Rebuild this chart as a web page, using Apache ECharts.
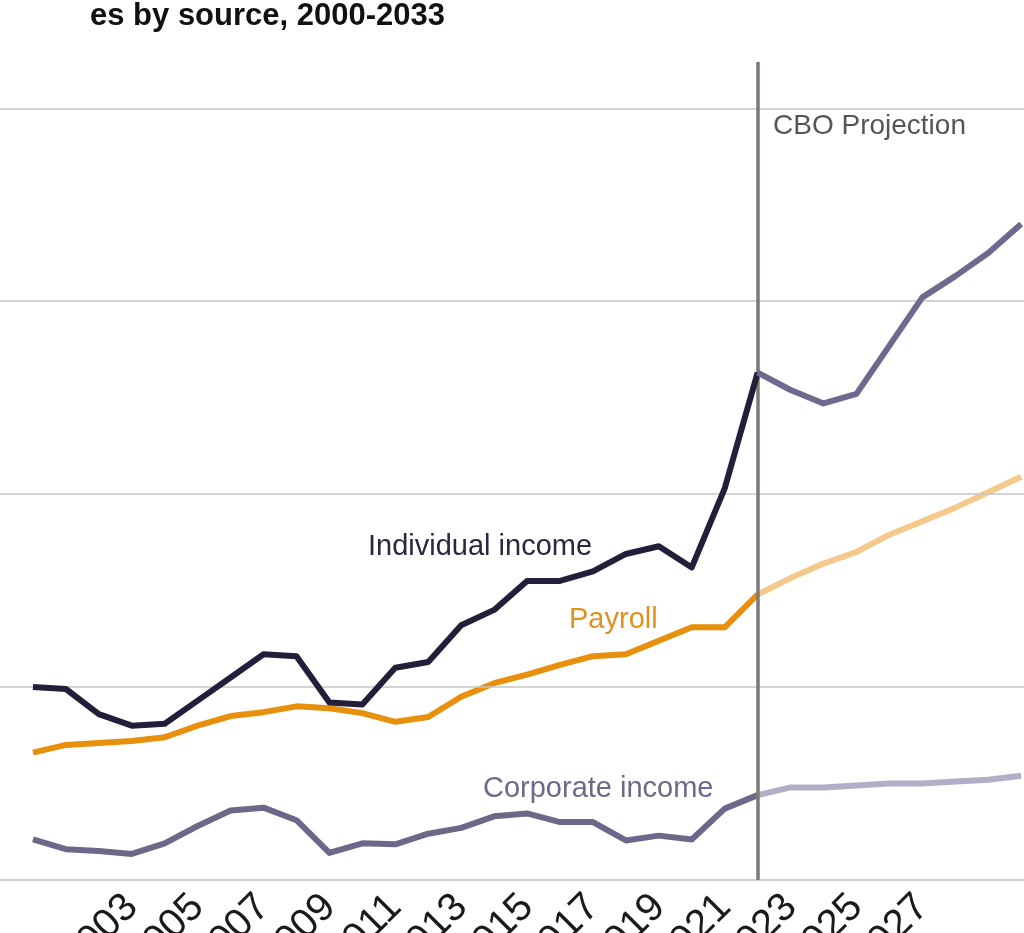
<!DOCTYPE html>
<html>
<head>
<meta charset="utf-8">
<script src="https://cdn.jsdelivr.net/npm/echarts@6/dist/echarts.min.js"></script>
<style>
html,body{margin:0;padding:0;background:#fff;}
#chart{width:1024px;height:933px;}
</style>
</head>
<body>
<div id="chart"></div>
<script>
// Federal revenue by source, trillions of dollars
const years = [2000,2001,2002,2003,2004,2005,2006,2007,2008,2009,2010,2011,2012,2013,2014,2015,2016,2017,2018,2019,2020,2021,2022,2023,2024,2025,2026,2027,2028,2029,2030];
const individual = [1.00,0.99,0.86,0.80,0.81,0.93,1.05,1.17,1.16,0.92,0.91,1.10,1.13,1.32,1.40,1.55,1.55,1.60,1.69,1.73,1.62,2.03,2.63,2.54,2.47,2.52,2.77,3.02,3.13,3.25,3.40];
const payroll    = [0.66,0.70,0.71,0.72,0.74,0.80,0.85,0.87,0.90,0.89,0.865,0.82,0.845,0.95,1.02,1.065,1.115,1.16,1.17,1.24,1.31,1.31,1.48,1.565,1.64,1.70,1.79,1.86,1.93,2.01,2.09];
const corporate  = [0.21,0.16,0.15,0.135,0.19,0.28,0.36,0.375,0.31,0.14,0.19,0.185,0.24,0.27,0.33,0.345,0.30,0.30,0.205,0.23,0.21,0.37,0.44,0.48,0.48,0.49,0.50,0.50,0.51,0.52,0.54];
const projectionStart = 2022;
const gridValues = [1,2,3,4];
const tickLabelYears = [2003,2005,2007,2009,2011,2013,2015,2017,2019,2021,2023,2025,2027];
const titleText = 'es by source, 2000-2033';
const labels = {
  individual: 'Individual income',
  payroll: 'Payroll',
  corporate: 'Corporate income',
  projection: 'CBO Projection'
};

function pairs(vals, hist) {
  return years.map((y, i) => [y, vals[i]]).filter(d => hist ? d[0] <= projectionStart : d[0] >= projectionStart);
}
function lineSeries(data, color, z) {
  return {
    type: 'line', data: data, symbol: 'none', silent: true, z: z,
    lineStyle: { color: color, width: 6, join: 'round', cap: 'butt' }
  };
}

const chart = echarts.init(document.getElementById('chart'), null, { renderer: 'canvas' });
const FONT = '"Liberation Sans", Arial, sans-serif';
chart.setOption({
  animation: false,
  backgroundColor: '#ffffff',
  grid: { left: 0, right: -96, top: 62, bottom: 53, containLabel: false, outerBoundsMode: 'none' },
  xAxis: {
    type: 'value', min: 1999, max: 2033, interval: 1,
    axisLine: { show: true, lineStyle: { color: '#c2c2c2', width: 1.5 } },
    axisTick: { show: false },
    splitLine: { show: false },
    axisLabel: {
      rotate: 45, margin: 21, color: '#1a1a1a', fontSize: 40, fontFamily: FONT,
      formatter: v => tickLabelYears.indexOf(v) >= 0 ? String(v) : ''
    }
  },
  yAxis: {
    type: 'value', min: 0, max: 4.24,
    axisLine: { show: false }, axisTick: { show: false },
    axisLabel: { show: false }, splitLine: { show: false }
  },
  series: [
    {
      type: 'line', data: [], z: 1, silent: true,
      markLine: {
        silent: true, symbol: ['none', 'none'], label: { show: false },
        lineStyle: { color: '#c6c6c6', width: 1.5, type: 'solid' },
        data: gridValues.map(v => ({ yAxis: v }))
      }
    },
    lineSeries(pairs(corporate, true), '#6c6889', 3),
    lineSeries(pairs(corporate, false), '#b1aec8', 3),
    lineSeries(pairs(payroll, true), '#e8900c', 4),
    lineSeries(pairs(payroll, false), '#f3c98c', 4),
    lineSeries(pairs(individual, true), '#231f3a', 5),
    lineSeries(pairs(individual, false), '#6e6a8f', 5),
    {
      type: 'line', data: [], z: 10, silent: true,
      markLine: {
        silent: true, symbol: ['none', 'none'], label: { show: false },
        lineStyle: { color: '#7d7a74', width: 3.5, type: 'solid' },
        data: [{ xAxis: projectionStart }]
      }
    }
  ],
  graphic: [
    { type: 'text', left: 90, top: 1, z: 20,
      style: { text: titleText, fill: '#111', font: 'bold 31px ' + FONT } },
    { type: 'text', x: 368, y: 547, z: 20,
      style: { text: labels.individual, fill: '#2a2740', font: '29px ' + FONT, verticalAlign: 'middle' } },
    { type: 'text', x: 569, y: 620, z: 20,
      style: { text: labels.payroll, fill: '#e0921e', font: '29px ' + FONT, verticalAlign: 'middle' } },
    { type: 'text', x: 483, y: 789, z: 20,
      style: { text: labels.corporate, fill: '#6d6a88', font: '29px ' + FONT, verticalAlign: 'middle' } },
    { type: 'text', x: 773, y: 126, z: 20,
      style: { text: labels.projection, fill: '#555555', font: '28px ' + FONT, verticalAlign: 'middle' } }
  ]
});
</script>
</body>
</html>
